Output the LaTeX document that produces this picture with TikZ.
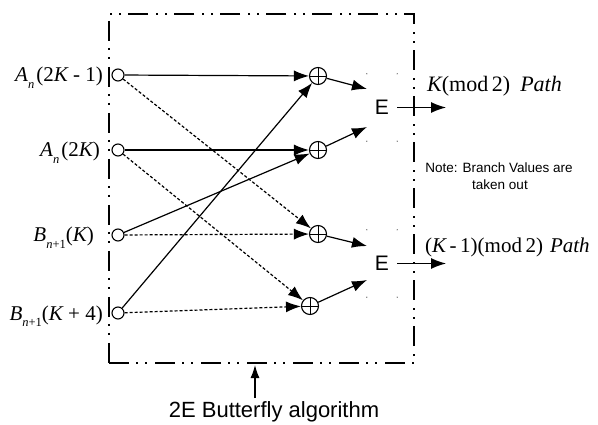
\documentclass[tikz,border=0pt]{standalone}
\usepackage{fontspec}
\setmainfont{Liberation Serif}
\setsansfont{Liberation Sans}
\usetikzlibrary{arrows.meta}
\newcommand{\lsub}[1]{\raisebox{-0.3em}{\fontsize{12.5}{12.5}\selectfont #1}}
\begin{document}
\begin{tikzpicture}[x=1pt,y=-1pt,
  inp/.style={circle,draw,line width=1.1pt,minimum size=12pt,inner sep=0pt,fill=white},
  opl/.style={circle,draw,line width=1.1pt,minimum size=17pt,inner sep=0pt,
    path picture={\draw[line width=0.9pt] (path picture bounding box.north) -- (path picture bounding box.south)
      (path picture bounding box.west) -- (path picture bounding box.east);}},
  ebox/.style={minimum width=30pt,minimum height=67pt,inner sep=0pt,font=\fontsize{21}{21}\selectfont\sffamily},
  lab/.style={font=\fontsize{21}{24}\selectfont,inner sep=0pt},
  note/.style={font=\fontsize{13.5}{16}\selectfont\sffamily,inner sep=0pt},
  arr/.style={line width=1.2pt,-{Latex[length=15pt,width=11pt]}},
  darr/.style={arr,dash pattern=on 3pt off 2pt},
  framebox/.style={draw,line width=2.6pt,minimum width=305pt,minimum height=349pt,inner sep=0pt,
    dash pattern=on 20pt off 7pt on 2pt off 7pt on 2pt off 8pt},
  cdot/.style={fill=black!60,circle,inner sep=0pt,minimum size=1.4pt}
]
\useasboundingbox (0,0) rectangle (598,425);
\fill[white] (0,0) rectangle (598,425);

% frame
\node[framebox] (fr) at (261.5,188.5) {};

% inputs
\node[inp] (a1) at (118,75) {};
\node[inp] (a2) at (118,150) {};
\node[inp] (b1) at (118,235) {};
\node[inp] (b2) at (118,313) {};

\node[lab,anchor=base east] (la1) at (103,82) {{\itshape A}\lsub{\itshape n}\hspace{2pt}(2{\itshape K} - 1)};
\node[lab,anchor=base east] (la2) at (100,157) {{\itshape A}\lsub{\itshape n}\hspace{2pt}(2{\itshape K})};
\node[lab,anchor=base east] (lb1) at (94,242) {{\itshape B}\lsub{{\itshape n}+1}(\itshape K\upshape)};
\node[lab,anchor=base east] (lb2) at (103,320) {{\itshape B}\lsub{{\itshape n}+1}({\itshape K} + 4)};

% xor nodes
\node[opl] (p1) at (318,76) {};
\node[opl] (p2) at (318,150) {};
\node[opl] (p3) at (318,234) {};
\node[opl] (p4) at (310,306) {};

% E boxes
\node[ebox] (e1) at (382,107.5) {E};
\node[ebox] (e2) at (382,263.5) {E};
\foreach \e in {e1,e2}{
  \node[cdot] at (\e.north west) {};
  \node[cdot] at (\e.north east) {};
  \node[cdot] at (\e.south west) {};
  \node[cdot] at (\e.south east) {};
}
\coordinate (e1a) at (367,89);
\coordinate (e1b) at (367,127);
\coordinate (e2a) at (367,246);
\coordinate (e2b) at (367,280);
\coordinate (o1) at (446,107.5);
\coordinate (o2) at (446,263.5);

% connectors input -> xor
\draw[arr] (a1) -- (p1);
\draw[darr] (a1) -- (p3);
\draw[arr] (a2) -- (p2);
\draw[darr] (a2) -- (p4);
\draw[arr] (b1) -- (p2);
\draw[darr] (b1) -- (p3);
\draw[arr] (b2) -- (p1);
\draw[darr] (b2) -- (p4);

% xor -> E
\draw[arr] (p1) -- (e1a);
\draw[arr] (p2) -- (e1b);
\draw[arr] (p3) -- (e2a);
\draw[arr] (p4) -- (e2b);

% outputs
\draw[arr] (e1.east) -- (o1);
\draw[arr] (e2.east) -- (o2);

\node[lab,anchor=base west,font=\fontsize{22}{24}\selectfont] (k1) at (427,92) {{\itshape K}(mod\,2)\hspace{10pt}{\itshape Path}};
\node[lab,anchor=base west,font=\fontsize{21}{24}\selectfont] (k2) at (425,253) {({\itshape K}\,-\,1)(mod\,2)\hspace{7pt}{\itshape Path}};

\node[note,anchor=base] (n1) at (499,173) {Note: Branch Values are};
\node[note,anchor=base] (n2) at (500,190) {taken out};

% bottom
\coordinate (bbot) at (255,398);
\coordinate (btop) at (255,365);
\draw[line width=1.2pt,-{Latex[length=13pt,width=9pt]}] (bbot) -- (btop);
\node[font=\fontsize{22}{24}\selectfont\sffamily,anchor=base,inner sep=0pt] (title) at (274,417) {2E Butterfly algorithm};
\end{tikzpicture}
\end{document}
